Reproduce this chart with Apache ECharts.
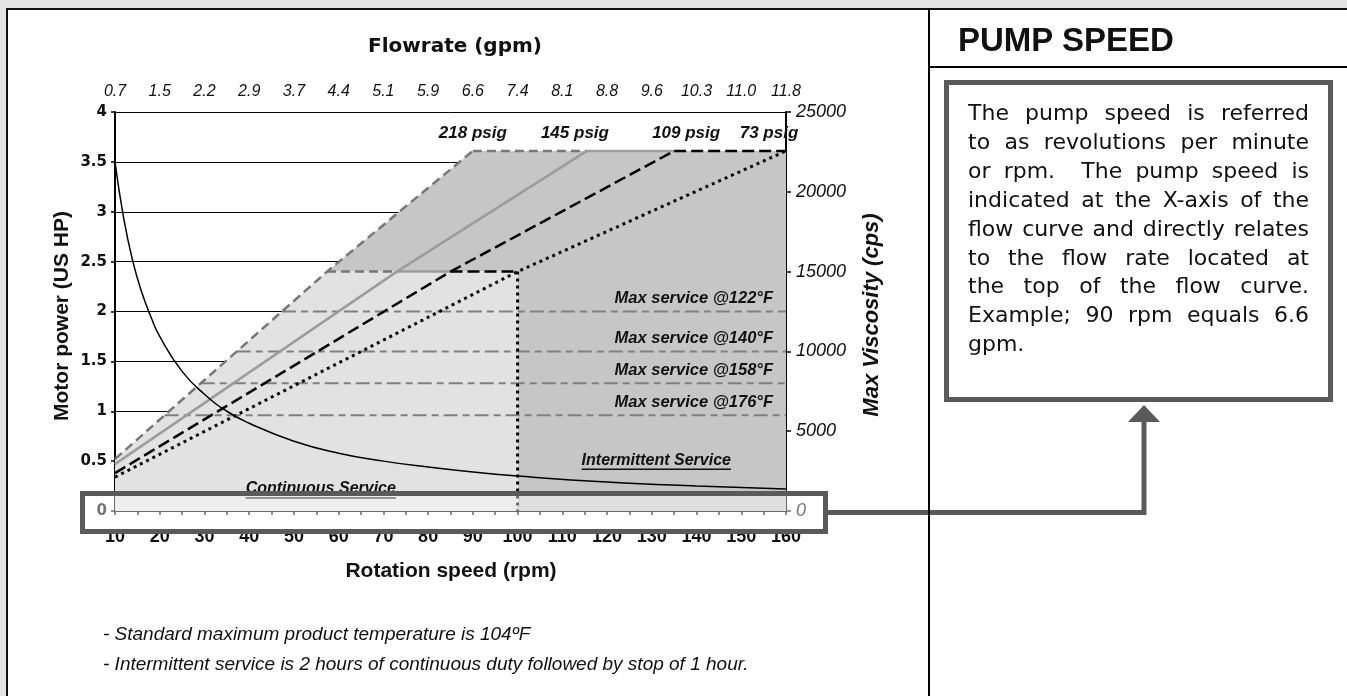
<!DOCTYPE html>
<html>
<head>
<meta charset="utf-8">
<title>Pump speed</title>
<script src="https://cdn.jsdelivr.net/npm/echarts@6/dist/echarts.min.js"></script>
<style>
  html, body { margin: 0; padding: 0; width: 1347px; height: 696px; overflow: hidden; background: #e4e4e4; }
  #sheet { position: absolute; left: 6px; top: 8px; width: 1341px; height: 688px; background: #fff;
           border-top: 2px solid #111; border-left: 2px solid #111; box-sizing: border-box; }
  #chart { position: absolute; left: 0; top: 0; width: 1347px; height: 696px; }
  #divider { position: absolute; left: 928px; top: 8px; width: 2px; height: 688px; background: #000; }
  #headline { position: absolute; left: 929px; top: 66px; width: 418px; height: 2px; background: #000; }
  #heading { position: absolute; left: 958px; top: 21px; font: bold 33px 'Liberation Sans', Arial, sans-serif; color: #111; }
  #note { position: absolute; left: 944px; top: 80px; width: 389px; height: 322px; box-sizing: border-box;
          border: 5px solid #5a5a5a; padding: 14px 19px 0 19px; color: #111;
          font: 22px 'DejaVu Sans', sans-serif; line-height: 28.9px; }
  #note div { text-align: justify; text-align-last: justify; }
  #note div.last { text-align-last: left; }
</style>
</head>
<body>
<div id="sheet"></div>
<div id="chart"></div>
<div id="divider"></div>
<div id="headline"></div>
<div id="heading">PUMP SPEED</div>
<div id="note">
  <div>The pump speed is referred</div>
  <div>to as revolutions per minute</div>
  <div>or rpm.&nbsp; The pump speed is</div>
  <div>indicated at the X-axis of the</div>
  <div>flow curve and directly relates</div>
  <div>to the flow rate located at</div>
  <div>the top of the flow curve.</div>
  <div>Example; 90 rpm equals 6.6</div>
  <div class="last">gpm.</div>
</div>
<script>
// top axis labels (gpm) at 10, 20 ... 160 rpm
const flowLabels = ['0.7', '1.5', '2.2', '2.9', '3.7', '4.4', '5.1', '5.9', '6.6', '7.4', '8.1', '8.8', '9.6', '10.3', '11.0', '11.8']

// motor power curve [rpm, HP]
const powerCurve = [[10, 3.5], [12, 2.92], [14, 2.5], [16, 2.19], [18, 1.95], [20, 1.75], [25, 1.4], [30, 1.17],
  [35, 1.0], [40, 0.88], [50, 0.7], [60, 0.58], [70, 0.5], [80, 0.44], [90, 0.39], [100, 0.35],
  [120, 0.29], [140, 0.25], [160, 0.22]]

// pressure lines [rpm, HP]
const psig218 = [[10, 0.52], [57.4, 2.4], [90, 3.61]]
const psig145 = [[10, 0.47], [73, 2.4], [115.5, 3.61]]
const psig109 = [[10, 0.38], [85, 2.4], [135, 3.61]]
const psig73 = [[10, 0.34], [100, 2.4], [160, 3.61]]
const psigNames = ['218 psig', '145 psig', '109 psig', '73 psig']

const contLimit = 2.4 // 15000 cps
const intLimit = 3.61

// max service viscosity (cps)
const serviceTemps = ['122°F', '140°F', '158°F', '176°F']
const serviceVisc = [12500, 10000, 8000, 6000]

const SANS = "'Liberation Sans', Arial, sans-serif"
const psigs = [psig218, psig145, psig109, psig73]
const psigStyles = [
  { color: '#777', width: 2.5, type: [9, 5] },
  { color: '#9c9c9c', width: 2.5, type: 'solid' },
  { color: '#000', width: 2.5, type: [12, 5] },
  { color: '#000', width: 3, type: [3, 4] }
]

// x where a polyline reaches a given HP value
function crossAt (line, v) {
  for (let i = 1; i < line.length; i++) {
    const a = line[i - 1]; const b = line[i]
    if (v >= a[1] && v <= b[1]) return a[0] + (v - a[1]) / (b[1] - a[1]) * (b[0] - a[0])
  }
  return line[0][0]
}

const regions = [
  { color: '#c6c6c6', pts: [psig218[1], psig218[2], [160, intLimit], [160, 0], [psig73[1][0], 0], psig73[1]] },
  { color: '#e2e2e2', pts: [[10, 0], psig218[0], psig218[1], psig73[1], [psig73[1][0], 0]] }
]

const series = []
series.push({
  type: 'custom',
  silent: true,
  data: regions.map(r => r.pts[0]),
  renderItem (params, api) {
    const r = regions[params.dataIndex]
    return { type: 'polygon', shape: { points: r.pts.map(p => api.coord(p)) }, style: { fill: r.color } }
  }
})
// max service lines, right axis
serviceVisc.forEach(v => {
  series.push({
    type: 'line', yAxisIndex: 1, symbol: 'none', silent: true,
    data: [[crossAt(psig218, v / 6250), v], [160, v]],
    lineStyle: { color: '#808080', width: 2, type: [14, 5, 7, 5] }
  })
})
// horizontal limits between neighbouring pressure lines
for (let i = 0; i < 3; i++) {
  [1, 2].forEach(k => {
    series.push({
      type: 'line', symbol: 'none', silent: true,
      data: [[psigs[i][k][0], psigs[i][k][1]], [psigs[i + 1][k][0], psigs[i][k][1]]],
      lineStyle: psigStyles[i]
    })
  })
}
psigs.forEach((p, i) => {
  series.push({ name: psigNames[i], type: 'line', symbol: 'none', silent: true, data: p, lineStyle: psigStyles[i] })
})
series.push({
  type: 'line', symbol: 'none', silent: true,
  data: [psig73[1], [psig73[1][0], 0]],
  lineStyle: psigStyles[3]
})
series.push({
  name: 'power', type: 'line', symbol: 'none', smooth: true, silent: true,
  data: powerCurve, lineStyle: { color: '#000', width: 1.5 }
})

const chart = echarts.init(document.getElementById('chart'))
chart.setOption({
  animation: false,
  grid: { left: 115, top: 112, width: 671, height: 399 },
  xAxis: [{
    type: 'value', position: 'bottom', min: 10, max: 160, interval: 5,
    axisLine: { lineStyle: { color: '#000', width: 1.5 } },
    axisTick: { inside: true, length: 5, lineStyle: { color: '#000', width: 1.5 } },
    axisLabel: {
      margin: 17, color: '#111', fontWeight: 'bold', fontSize: 18, fontFamily: SANS,
      formatter: v => (v % 10 === 0 ? String(v) : '')
    },
    splitLine: { show: false }
  }, {
    type: 'value', position: 'top', min: 10, max: 160, interval: 5,
    axisLine: { lineStyle: { color: '#000', width: 2 } },
    axisTick: { inside: true, length: 4, lineStyle: { color: '#000', width: 1.5 } },
    axisLabel: {
      margin: 12, color: '#111', fontStyle: 'italic', fontSize: 16, fontFamily: SANS,
      formatter: v => (v % 10 === 0 ? flowLabels[(v - 10) / 10] : '')
    },
    splitLine: { show: false }
  }],
  yAxis: [{
    type: 'value', position: 'left', min: 0, max: 4, interval: 0.5,
    axisLine: { show: true, lineStyle: { color: '#000', width: 2 } },
    axisTick: { show: true, length: 4, lineStyle: { color: '#000', width: 1.5 } },
    axisLabel: { margin: 8, color: '#111', fontWeight: 'bold', fontSize: 15, fontFamily: "'DejaVu Sans', sans-serif" },
    splitLine: { show: true, lineStyle: { color: '#000', width: 1 } }
  }, {
    type: 'value', position: 'right', min: 0, max: 25000, interval: 5000,
    axisLine: { show: true, lineStyle: { color: '#000', width: 2 } },
    axisTick: { show: true, length: 5, lineStyle: { color: '#000', width: 1.5 } },
    axisLabel: { margin: 10, color: '#111', fontStyle: 'italic', fontSize: 18, fontFamily: SANS, formatter: v => String(v) },
    splitLine: { show: false }
  }],
  series: series
})

// annotations
const ctx = document.createElement('canvas').getContext('2d')
function textWidth (font, s) { ctx.font = font; return ctx.measureText(s).width }
const px = p => chart.convertToPixel({ xAxisIndex: 0, yAxisIndex: 0 }, p)
const pxR = p => chart.convertToPixel({ xAxisIndex: 0, yAxisIndex: 1 }, p)

function label (x, y, text, font, opts) {
  opts = opts || {}
  return {
    type: 'text', z: opts.z || 60, x: x, y: y, rotation: opts.rotation || 0,
    style: {
      text: text, font: font, fill: opts.fill || '#111',
      align: opts.align || 'center', textAlign: opts.align || 'center',
      verticalAlign: 'middle', textVerticalAlign: 'middle'
    }
  }
}
function underlined (p, text, font, z) {
  const w = textWidth(font, text)
  return [
    label(p[0], p[1], text, font, { z: z }),
    { type: 'line', z: z, shape: { x1: p[0] - w / 2, y1: p[1] + 9, x2: p[0] + w / 2, y2: p[1] + 9 }, style: { stroke: '#111', lineWidth: 1.5 } }
  ]
}

const g = []
const psigFont = 'italic bold 17px ' + SANS
const psigShift = [0, -12, 12, -17]
psigs.forEach((p, i) => {
  const top = px(p[2])
  g.push(label(top[0] + psigShift[i], top[1] - 18, psigNames[i], psigFont))
})
const svcFont = 'italic bold 16.5px ' + SANS
serviceVisc.forEach((v, i) => {
  const q = pxR([160, v])
  g.push(label(q[0] - 13, q[1] - 13, 'Max service @' + serviceTemps[i], svcFont, { align: 'right' }))
})
const areaFont = 'italic bold 16px ' + SANS
g.push(...underlined(px([131, 0.51]), 'Intermittent Service', areaFont, 60))
g.push(...underlined(px([56, 0.22]), 'Continuous Service', areaFont, 60))

// axis titles
g.push(label(455, 47, 'Flowrate (gpm)', "bold 20px 'DejaVu Sans', sans-serif"))
g.push(label(451, 571, 'Rotation speed (rpm)', 'bold 21px ' + SANS))
g.push(label(62, 316, 'Motor power (US HP)', 'bold 21px ' + SANS, { rotation: Math.PI / 2 }))
g.push(label(872, 315, 'Max Viscosity (cps)', 'italic bold 22px ' + SANS, { rotation: Math.PI / 2 }))

// notes
const noteFont = 'italic 19px ' + SANS
g.push(label(103, 635, '- Standard maximum product temperature is 104ºF', noteFont, { align: 'left' }))
g.push(label(103, 665, '- Intermittent service is 2 hours of continuous duty followed by stop of 1 hour.', noteFont, { align: 'left' }))

// highlight box and pointer to the note
g.push({ type: 'rect', z: 100, shape: { x: 82.5, y: 493.5, width: 743, height: 38 },
  style: { fill: 'rgba(255,255,255,0.42)', stroke: '#5a5a5a', lineWidth: 5 } })
g.push({ type: 'polyline', z: 100, shape: { points: [[828, 512.5], [1144, 512.5], [1144, 420]] },
  style: { stroke: '#5a5a5a', lineWidth: 5, fill: null, lineJoin: 'miter' } })
g.push({ type: 'polygon', z: 100, shape: { points: [[1128, 422], [1160, 422], [1144, 405]] },
  style: { fill: '#5a5a5a' } })

chart.setOption({ graphic: g })
</script>
</body>
</html>
